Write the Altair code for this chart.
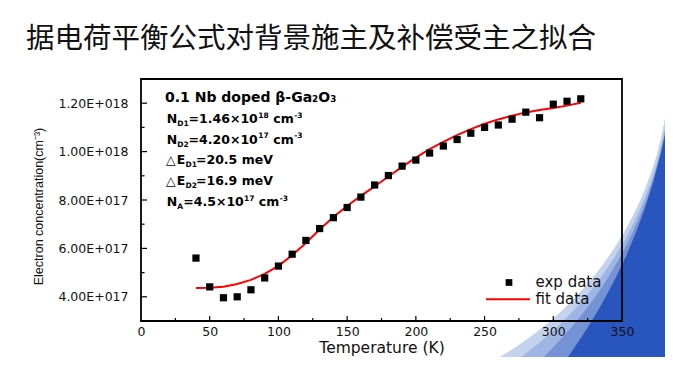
import math
import altair as alt
import pandas as pd

# ---------------- data ----------------
temps = [40, 50, 60, 70, 80, 90, 100, 110, 120, 130, 140, 150, 160, 170, 180,
         190, 200, 210, 220, 230, 240, 250, 260, 270, 280, 290, 300, 310, 320]
exp_e17 = [5.60, 4.41, 3.96, 4.00, 4.29, 4.78, 5.27, 5.76, 6.33, 6.82, 7.27, 7.69,
           8.12, 8.62, 9.01, 9.40, 9.65, 9.94, 10.23, 10.50, 10.76, 11.00, 11.10,
           11.34, 11.63, 11.40, 11.96, 12.08, 12.18]
fit_e17 = [4.36, 4.37, 4.42, 4.53, 4.70, 4.95, 5.28, 5.72, 6.22, 6.78, 7.30, 7.75,
           8.17, 8.56, 8.97, 9.37, 9.75, 10.10, 10.40, 10.68, 10.93, 11.15, 11.33,
           11.48, 11.62, 11.72, 11.80, 11.90, 12.02]

x_ticks = [0, 50, 100, 150, 200, 250, 300, 350]
x_minor = [25, 75, 125, 175, 225, 275, 325]
y_ticks_e17 = [4, 6, 8, 10, 12]
y_minor_e17 = [5, 7, 9, 11]

title_text = "据电荷平衡公式对背景施主及补偿受主之拟合"
x_title = "Temperature (K)"
y_title = "Electron concentration(cm⁻³)"
legend_labels = ["exp data", "fit data"]
headline = "0.1 Nb doped β-Ga₂O₃"

# annotation pieces: text, page-x, page-y (baseline), font size
ann_text = ["N", "D1", "=1.46×10", "18", "cm", "-3",
            "N", "D2", "=4.20×10", "17", "cm", "-3",
            "△", "E", "D1", "=20.5 meV",
            "△", "E", "D2", "=16.9 meV",
            "N", "A", "=4.5×10", "17", "cm", "-3"]
ann_px = [166.7, 177.2, 188.6, 258.3, 273.3, 294.2,
          166.7, 177.2, 188.6, 258.3, 273.3, 294.2,
          166.0, 176.8, 185.5, 196.0,
          166.0, 176.8, 185.5, 196.0,
          166.7, 177.2, 183.3, 244.0, 258.8, 279.7]
ann_py = [123.0, 126.0, 123.0, 117.5, 123.0, 117.5,
          143.7, 146.7, 143.7, 138.2, 143.7, 138.2,
          164.4, 164.4, 167.4, 164.4,
          185.1, 185.1, 188.1, 185.1,
          206.0, 209.0, 206.0, 200.5, 206.0, 200.5]
ann_fs = [12.5, 7.5, 12.5, 7.5, 12.5, 7.5,
          12.5, 7.5, 12.5, 7.5, 12.5, 7.5,
          12.5, 12.5, 7.5, 12.5,
          12.5, 12.5, 7.5, 12.5,
          12.5, 7.5, 12.5, 7.5, 12.5, 7.5]

# ---------------- layout ----------------
W, H = 481, 242
OX, OY = 141, 79          # page position of plot origin
PAD_L, PAD_T = OX - 8, OY - 8
TOTAL_W, TOTAL_H = 657, 349

XD = [0, 350]
YD = [3e17, 1.3e18]

exp_df = pd.DataFrame({"T": temps, "n": [v * 1e17 for v in exp_e17]})
fit_df = pd.DataFrame({"T": temps, "n": [v * 1e17 for v in fit_e17]})

xs = alt.Scale(domain=XD, nice=False, zero=False)
ys = alt.Scale(domain=YD, nice=False, zero=False)

label_expr = ("format(datum.value / pow(10, floor(log(datum.value)/LN10 + 1e-9)), '.2f')"
              " + 'E+0' + floor(log(datum.value)/LN10 + 1e-9)")

x_axis = alt.Axis(values=x_ticks, ticks=False, domain=False, grid=False,
                  labelFont="DejaVu Sans", labelFontSize=12.5, labelColor="#111",
                  labelPadding=4, labelFlush=False, labelOverlap=False,
                  title=x_title, titleFont="DejaVu Sans", titleFontSize=15.5,
                  titleFontWeight="normal", titleColor="#111",
                  titleX=W / 2, titleY=31.5, titleBaseline="alphabetic",
                  titleAnchor="middle", zindex=1)
y_axis = alt.Axis(values=[v * 1e17 for v in y_ticks_e17], ticks=False, domain=False,
                  grid=False, labelExpr=label_expr,
                  labelFont="DejaVu Sans", labelFontSize=12.5, labelColor="#111",
                  labelPadding=13, labelOverlap=False,
                  title=y_title, titleFont="Liberation Sans", titleFontSize=12.5,
                  titleFontWeight="normal", titleColor="#111",
                  titleX=-103, titleY=127, titleAngle=270, titleAlign="center",
                  titleBaseline="middle", zindex=1)

# ---------- decorative swoosh (background of the slide) ----------
def circle3(p1, p2, p3):
    (x1, y1), (x2, y2), (x3, y3) = p1, p2, p3
    d = 2 * (x1 * (y2 - y3) + x2 * (y3 - y1) + x3 * (y1 - y2))
    ux = ((x1**2 + y1**2) * (y2 - y3) + (x2**2 + y2**2) * (y3 - y1) + (x3**2 + y3**2) * (y1 - y2)) / d
    uy = ((x1**2 + y1**2) * (x3 - x2) + (x2**2 + y2**2) * (x1 - x3) + (x3**2 + y3**2) * (x2 - x1)) / d
    r = math.hypot(x1 - ux, y1 - uy)
    return ux, uy, r

bands = [
    (((487, 364), (615, 247), (668, 95)), "#c4d2ee"),
    (((511, 364), (619, 250), (669, 100)), "#9fb5e4"),
    (((536, 364), (624, 250), (669, 106)), "#7592d5"),
    (((562, 365), (630, 247), (669, 112)), "#2855be"),
]
swoosh_layers = []
for pts, col in bands:
    cx, cy, r = circle3(*pts)
    tx, ty = pts[2]
    th1 = math.atan2(tx - cx, -(ty - cy)) - 0.12
    swoosh_layers.append(
        alt.Chart(pd.DataFrame({"k": [0]})).mark_arc(
            innerRadius=r, outerRadius=r + 700, theta=th1, theta2=math.pi,
            color=col, stroke=None
        ).encode(x=alt.value(cx - OX), y=alt.value(cy - OY))
    )

# ---------------- data layers ----------------
base_axes = alt.Chart(exp_df).mark_point(opacity=0).encode(
    x=alt.X("T:Q", scale=xs, axis=x_axis),
    y=alt.Y("n:Q", scale=ys, axis=y_axis),
)

fit_line = alt.Chart(fit_df).mark_line(color="#ff0000", strokeWidth=2).encode(
    x=alt.X("T:Q", scale=xs), y=alt.Y("n:Q", scale=ys))

exp_pts = alt.Chart(exp_df).mark_square(size=52, color="black", opacity=1).encode(
    x=alt.X("T:Q", scale=xs), y=alt.Y("n:Q", scale=ys))

xt_df = pd.DataFrame({"T": x_ticks[1:-1]})
xm_df = pd.DataFrame({"T": x_minor})
yt_df = pd.DataFrame({"n": [v * 1e17 for v in y_ticks_e17]})
ym_df = pd.DataFrame({"n": [v * 1e17 for v in y_minor_e17]})

tick_style = dict(color="black", strokeWidth=1.2)
x_major = alt.Chart(xt_df).mark_rule(**tick_style).encode(
    x=alt.X("T:Q", scale=xs), y=alt.value(H), y2=alt.value(H - 5))
x_minor_l = alt.Chart(xm_df).mark_rule(**tick_style).encode(
    x=alt.X("T:Q", scale=xs), y=alt.value(H), y2=alt.value(H - 3))
y_major = alt.Chart(yt_df).mark_rule(**tick_style).encode(
    y=alt.Y("n:Q", scale=ys), x=alt.value(0), x2=alt.value(6))
y_minor_l = alt.Chart(ym_df).mark_rule(**tick_style).encode(
    y=alt.Y("n:Q", scale=ys), x=alt.value(0), x2=alt.value(3.5))

frame = alt.Chart(pd.DataFrame({"k": [0]})).mark_rect(
    filled=False, stroke="black", strokeWidth=1.8).encode(
    x=alt.value(0), x2=alt.value(W), y=alt.value(0), y2=alt.value(H))

# ---------------- texts ----------------
title_layer = alt.Chart(pd.DataFrame({"k": [0]})).mark_text(
    text=title_text, font="Noto Sans CJK SC", fontSize=28.5, fontWeight="normal",
    align="left", baseline="alphabetic", color="#111").encode(
    x=alt.value(26 - OX), y=alt.value(48 - OY))

headline_layer = alt.Chart(pd.DataFrame({"k": [0]})).mark_text(
    text=headline, font="DejaVu Sans", fontSize=14, fontWeight="bold",
    align="left", baseline="alphabetic", color="black").encode(
    x=alt.value(165 - OX), y=alt.value(101.7 - OY))

ann_df = pd.DataFrame({"t": ann_text,
                       "px": [p - OX for p in ann_px],
                       "py": [p - OY for p in ann_py],
                       "fs": ann_fs})
ann_layer = alt.Chart(ann_df).mark_text(
    font="DejaVu Sans", fontWeight="bold", align="left", baseline="alphabetic",
    color="black").encode(
    x=alt.X("px:Q", scale=None), y=alt.Y("py:Q", scale=None),
    text="t:N", size=alt.Size("fs:Q", scale=None))

leg_sq = alt.Chart(pd.DataFrame({"k": [0]})).mark_square(
    size=45, color="black", opacity=1).encode(x=alt.value(368), y=alt.value(203.5))
leg_line = alt.Chart(pd.DataFrame({"k": [0]})).mark_rule(
    color="#ff0000", strokeWidth=2).encode(
    x=alt.value(345), x2=alt.value(389), y=alt.value(220.3))
leg_t1 = alt.Chart(pd.DataFrame({"k": [0]})).mark_text(
    text=legend_labels[0], font="DejaVu Sans", fontSize=15, align="left",
    baseline="alphabetic", color="#111").encode(x=alt.value(394.5), y=alt.value(208.0))
leg_t2 = alt.Chart(pd.DataFrame({"k": [0]})).mark_text(
    text=legend_labels[1], font="DejaVu Sans", fontSize=15, align="left",
    baseline="alphabetic", color="#111").encode(x=alt.value(394.5), y=alt.value(224.5))

chart = alt.layer(
    *swoosh_layers, base_axes, fit_line, exp_pts,
    x_major, x_minor_l, y_major, y_minor_l, frame,
    title_layer, headline_layer, ann_layer,
    leg_sq, leg_line, leg_t1, leg_t2,
).properties(
    width=W, height=H,
    autosize=alt.AutoSizeParams(type="none"),
    padding={"left": PAD_L, "top": PAD_T,
             "right": TOTAL_W - PAD_L - W, "bottom": TOTAL_H - PAD_T - H},
    background="white",
).configure_view(stroke=None)

chart.save("out.html", embed_options={"renderer": "svg", "actions": False})
